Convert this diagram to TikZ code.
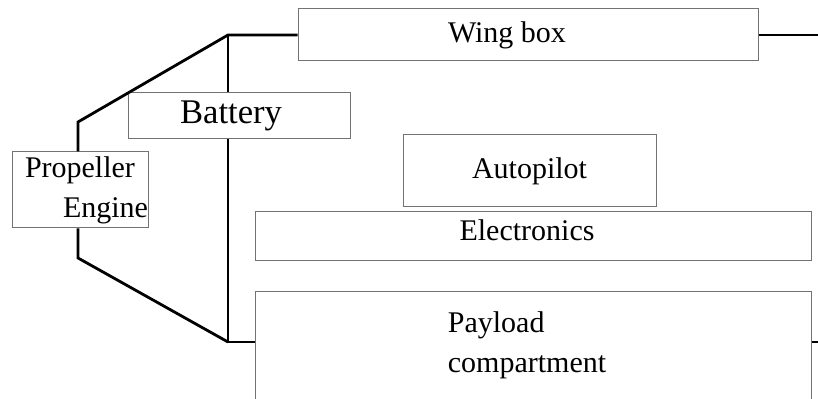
\documentclass[tikz,border=0pt]{standalone}
\usepackage{fontspec}
\setmainfont{Liberation Serif}

\tikzstyle{part} = [draw=black!55, line width=0.5pt, inner sep=0pt, font=\fontsize{15}{20}\selectfont]
\tikzstyle{caption} = [inner sep=0pt, align=left, font=\fontsize{15}{20}\selectfont]
\tikzstyle{link} = [line width=1.4pt, line join=miter]

\begin{document}
\begin{tikzpicture}[x=0.5pt, y=-0.5pt]
\useasboundingbox (0,0) rectangle (818,399);

% fuselage parts
\node[part, minimum width=230pt, minimum height=26pt,
      label={[caption, xshift=-10.5pt]center:Wing box}] (wing) at (528,35) {};
\node[part, minimum width=111pt, minimum height=23pt,
      label={[caption, xshift=-4pt, font=\fontsize{17.3}{20}\selectfont]center:Battery}] (battery) at (239,116) {};
\node[part, minimum width=68pt, minimum height=38pt, text width=68pt, align=left]
      (engine) at (80,190) {\hspace*{6.5pt}Propeller\\\hspace*{25.5pt}Engine};
\node[part, minimum width=126.5pt, minimum height=36pt] (autopilot) at (529.5,171) {Autopilot};
\node[part, minimum width=278pt, minimum height=24.5pt,
      label={[caption, xshift=-3pt, yshift=3pt]center:Electronics}] (electronics) at (533,236.5) {};
\node[part, minimum width=278pt, minimum height=64pt,
      label={[caption, anchor=north west, xshift=96.5pt, yshift=-9.75pt]north west:Payload\\compartment}]
      (payload) at (533,356) {};

% frame lines
\coordinate (top) at (228,35);
\coordinate (bot) at (228,342);
\coordinate (eng top) at (78,122);
\coordinate (eng bot) at (78,258);
\coordinate (wing out) at (818,35);
\coordinate (payload out) at (818,342);

\draw[link] (wing.west) -- (top) -- (eng top) -- (eng top |- engine.north);
\draw[link] (engine.south -| eng bot) -- (eng bot) -- (bot);
\draw[link] (top) -- (battery.north -| top);
\draw[link] (battery.south -| top) -- (bot) -- (payload.west |- bot);
\draw[link] (wing.east) -- (wing out);
\draw[link] (payload.east |- payload out) -- (payload out);
\end{tikzpicture}
\end{document}
